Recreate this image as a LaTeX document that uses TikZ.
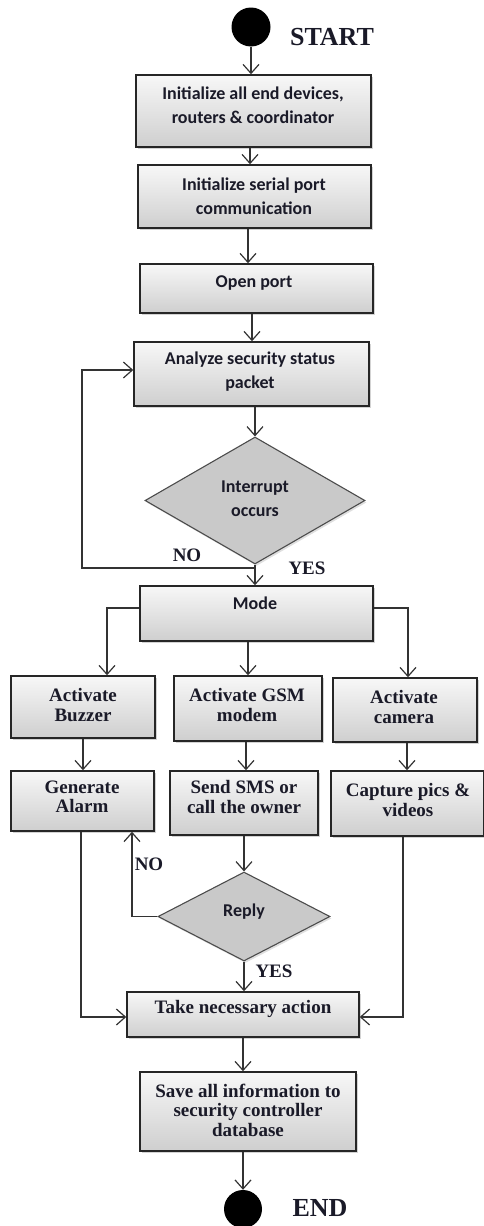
\documentclass[tikz,border=0pt]{standalone}
\usepackage{fontspec}
\setmainfont{Liberation Serif}
\newfontfamily\calfont{Carlito}
\usetikzlibrary{arrows.meta,shapes.geometric,shadows}
\definecolor{txtc}{HTML}{1A1A28}
\tikzset{
  box/.style={draw=black!85, line width=1.5pt, rectangle, top color=gray!6, bottom color=gray!38,
     drop shadow={opacity=0.35, shadow xshift=1.5pt, shadow yshift=-2pt}},
  dia/.style={draw=black!70, line width=1.1pt, diamond, fill=gray!42, inner sep=0pt,
     drop shadow={opacity=0.25, shadow xshift=1.5pt, shadow yshift=-2pt}},
  term/.style={circle, fill=black, inner sep=0pt},
  ctxt/.style={font=\calfont\bfseries\fontsize{18}{24}\selectfont, text=txtc, align=center, inner sep=0pt},
  stxt/.style={font=\bfseries\fontsize{19}{19.5}\selectfont, text=txtc, align=center, inner sep=0pt},
  lbl/.style={font=\bfseries\fontsize{19}{19}\selectfont, text=txtc, inner sep=0pt},
  big/.style={font=\bfseries\fontsize{26}{26}\selectfont, text=txtc, inner sep=0pt},
  arr/.style={line width=1.3pt, draw=black!80, -{Straight Barb[length=9pt,width=16pt,line width=1.2pt]}}
}
\begin{document}
\begin{tikzpicture}[x=1pt,y=-1pt]
\useasboundingbox (0,0) rectangle (483,1226);
% terminals
\node[term, minimum size=39pt] (start) at (251,27) {};
\node[big] (starttxt) at (332,37) {START};
\node[term, minimum size=38pt] (end) at (243,1209) {};
\node[big] (endtxt) at (320,1208) {END};
% main column
\node[box, minimum width=235pt, minimum height=72pt] (b1) at (253.5,111) {};
\node[ctxt] (t1) at (253,105) {Initialize all end devices,\\routers \& coordinator};
\node[box, minimum width=233pt, minimum height=63pt] (b2) at (254.5,196.5) {};
\node[ctxt] (t2) at (254,196) {Initialize serial port\\communication};
\node[box, minimum width=233pt, minimum height=49pt] (b3) at (256.5,288.5) {};
\node[ctxt] (t3) at (254,283) {Open port};
\node[box, minimum width=235pt, minimum height=64pt] (b4) at (251.5,374) {};
\node[ctxt] (t4) at (250,372) {Analyze security status\\packet};
\node[dia, minimum width=220pt, minimum height=127pt] (d1) at (255,500.5) {};
\node[ctxt] (td1) at (255,499) {Interrupt\\occurs};
\node[box, minimum width=233pt, minimum height=55pt] (mode) at (256.5,613.5) {};
\node[ctxt] (tm) at (255,603) {Mode};
% three branches
\node[box, minimum width=144pt, minimum height=62pt] (buz) at (83,707) {};
\node[stxt] (tbuz) at (83,705) {Activate\\Buzzer};
\node[box, minimum width=148pt, minimum height=65pt] (gsm) at (248,708.5) {};
\node[stxt] (tgsm) at (247,705) {Activate GSM\\modem};
\node[box, minimum width=144pt, minimum height=64pt] (cam) at (405,710) {};
\node[stxt] (tcam) at (404,707) {Activate\\camera};
\node[box, minimum width=143pt, minimum height=60pt] (alarm) at (82.5,801) {};
\node[stxt] (talarm) at (82,797) {Generate\\Alarm};
\node[box, minimum width=148pt, minimum height=64pt] (sms) at (244,803) {};
\node[stxt] (tsms) at (244,797) {Send SMS or\\call the owner};
\node[box, minimum width=153pt, minimum height=65pt] (cap) at (407.5,803.5) {};
\node[stxt] (tcap) at (408,800) {Capture pics \&\\videos};
\node[dia, minimum width=172pt, minimum height=89pt] (d2) at (244,916.5) {};
\node[ctxt] (td2) at (244,912) {Reply};
\node[box, minimum width=232pt, minimum height=45pt] (take) at (243,1014.5) {};
\node[stxt] (ttake) at (243,1009) {Take necessary action};
\node[box, minimum width=216pt, minimum height=79pt] (save) at (248,1111.5) {};
\node[stxt] (tsave) at (248,1110) {Save all information to\\security controller\\database};
% labels
\node[lbl] (no1) at (187,555) {NO};
\node[lbl] (yes1) at (307,568) {YES};
\node[lbl] (no2) at (149,864) {NO};
\node[lbl] (yes2) at (274,971) {YES};
% helper coordinates
\coordinate (x251) at (251,0);
\coordinate (x250) at (250,0);
\coordinate (x248) at (248,0);
\coordinate (x252) at (252,0);
\coordinate (x255) at (255,0);
\coordinate (x83) at (83,0);
\coordinate (x246) at (246,0);
\coordinate (x407) at (407,0);
\coordinate (x244) at (244,0);
\coordinate (x243) at (243,0);
\coordinate (nA) at (255,568);
\coordinate (nB) at (82,568);
\coordinate (nC) at (82,370);
\coordinate (mL) at (107,608);
\coordinate (mR) at (408,608);
\coordinate (rL) at (132,916.5);
\coordinate (aL) at (81,1017);
\coordinate (cR) at (403,1017);
% connectors
\draw[arr] (start.south) -- (x251 |- b1.north);
\draw[arr] (x250 |- b1.south) -- (x250 |- b2.north);
\draw[arr] (x248 |- b2.south) -- (x248 |- b3.north);
\draw[arr] (x252 |- b3.south) -- (x252 |- b4.north);
\draw[arr] (x255 |- b4.south) -- (d1.north);
\draw[arr] (d1.south) -- (x255 |- mode.north);
\draw[arr] (nA) -- (nB) -- (nC) -- (nC -| b4.west);
\draw[arr] (mode.west |- mL) -- (mL) -- (mL |- buz.north);
\draw[arr] (x248 |- mode.south) -- (x248 |- gsm.north);
\draw[arr] (mode.east |- mR) -- (mR) -- (mR |- cam.north);
\draw[arr] (x83 |- buz.south) -- (x83 |- alarm.north);
\draw[arr] (x246 |- gsm.south) -- (x246 |- sms.north);
\draw[arr] (x407 |- cam.south) -- (x407 |- cap.north);
\draw[arr] (x244 |- sms.south) -- (d2.north);
\draw[arr] (d2.west) -- (rL) -- (rL |- alarm.south);
\draw[arr] (aL |- alarm.south) -- (aL) -- (aL -| take.west);
\draw[arr] (cR |- cap.south) -- (cR) -- (cR -| take.east);
\draw[arr] (d2.south) -- (x244 |- take.north);
\draw[arr] (x243 |- take.south) -- (x243 |- save.north);
\draw[arr] (x243 |- save.south) -- (end.north);
\end{tikzpicture}
\end{document}
